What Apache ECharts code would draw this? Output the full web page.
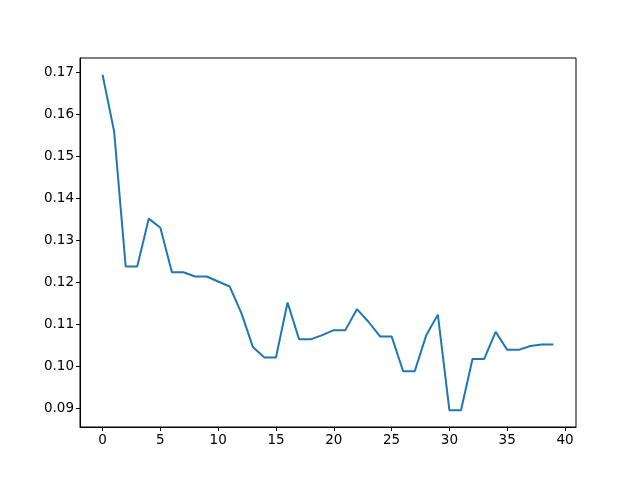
<!DOCTYPE html>
<html>
<head>
<meta charset="utf-8">
<script src="https://cdn.jsdelivr.net/npm/echarts@6/dist/echarts.min.js"></script>
<style>html,body{margin:0;padding:0;background:#fff}#c{width:640px;height:480px}</style>
</head>
<body>
<div id="c"></div>
<script>
var xValues = [0,1,2,3,4,5,6,7,8,9,10,11,12,13,14,15,16,17,18,19,20,21,22,23,24,25,26,27,28,29,30,31,32,33,34,35,36,37,38,39];
var yValues = [0.1695,0.1560,0.1238,0.1238,0.1352,0.1330,0.1224,0.1224,0.1214,0.1214,
               0.1202,0.1190,0.1127,0.1046,0.1021,0.1021,0.1152,0.1064,0.1064,0.1074,
               0.1086,0.1086,0.1136,0.1106,0.1071,0.1071,0.0988,0.0988,0.1074,0.1123,
               0.0895,0.0895,0.1017,0.1017,0.1082,0.1039,0.1039,0.1048,0.1052,0.1052];
var xTicks = [0,5,10,15,20,25,30,35,40];
var yTicks = [0.09,0.10,0.11,0.12,0.13,0.14,0.15,0.16,0.17];

var chart = echarts.init(document.getElementById('c'), null, {renderer:'canvas'});
var font = {fontFamily:'DejaVu Sans', fontSize:13.5, color:'#000'};
chart.setOption({
  animation:false,
  grid:{left:80, right:64, top:58, bottom:53, show:true, borderColor:'#000', borderWidth:1, backgroundColor:'#fff'},
  xAxis:{
    type:'value', min:-1.95, max:40.95,
    splitLine:{show:false},
    axisLine:{show:true, onZero:false, lineStyle:{color:'#000', width:1}},
    axisTick:{show:true, length:4, lineStyle:{color:'#000'}, customValues:xTicks},
    axisLabel:Object.assign({margin:6, customValues:xTicks, formatter:function(v){return String(v);}}, font)
  },
  yAxis:{
    type:'value', min:0.0855, max:0.1735,
    splitLine:{show:false},
    axisLine:{show:true, onZero:false, lineStyle:{color:'#000', width:1}},
    axisTick:{show:true, length:4, lineStyle:{color:'#000'}, customValues:yTicks},
    axisLabel:Object.assign({margin:6, customValues:yTicks, formatter:function(v){return v.toFixed(2);}}, font)
  },
  series:[{
    type:'line',
    data:xValues.map(function(x,i){return [x, yValues[i]];}),
    showSymbol:false,
    lineStyle:{color:'#1f77b4', width:2},
    itemStyle:{color:'#1f77b4'}
  }]
});
</script>
</body>
</html>
